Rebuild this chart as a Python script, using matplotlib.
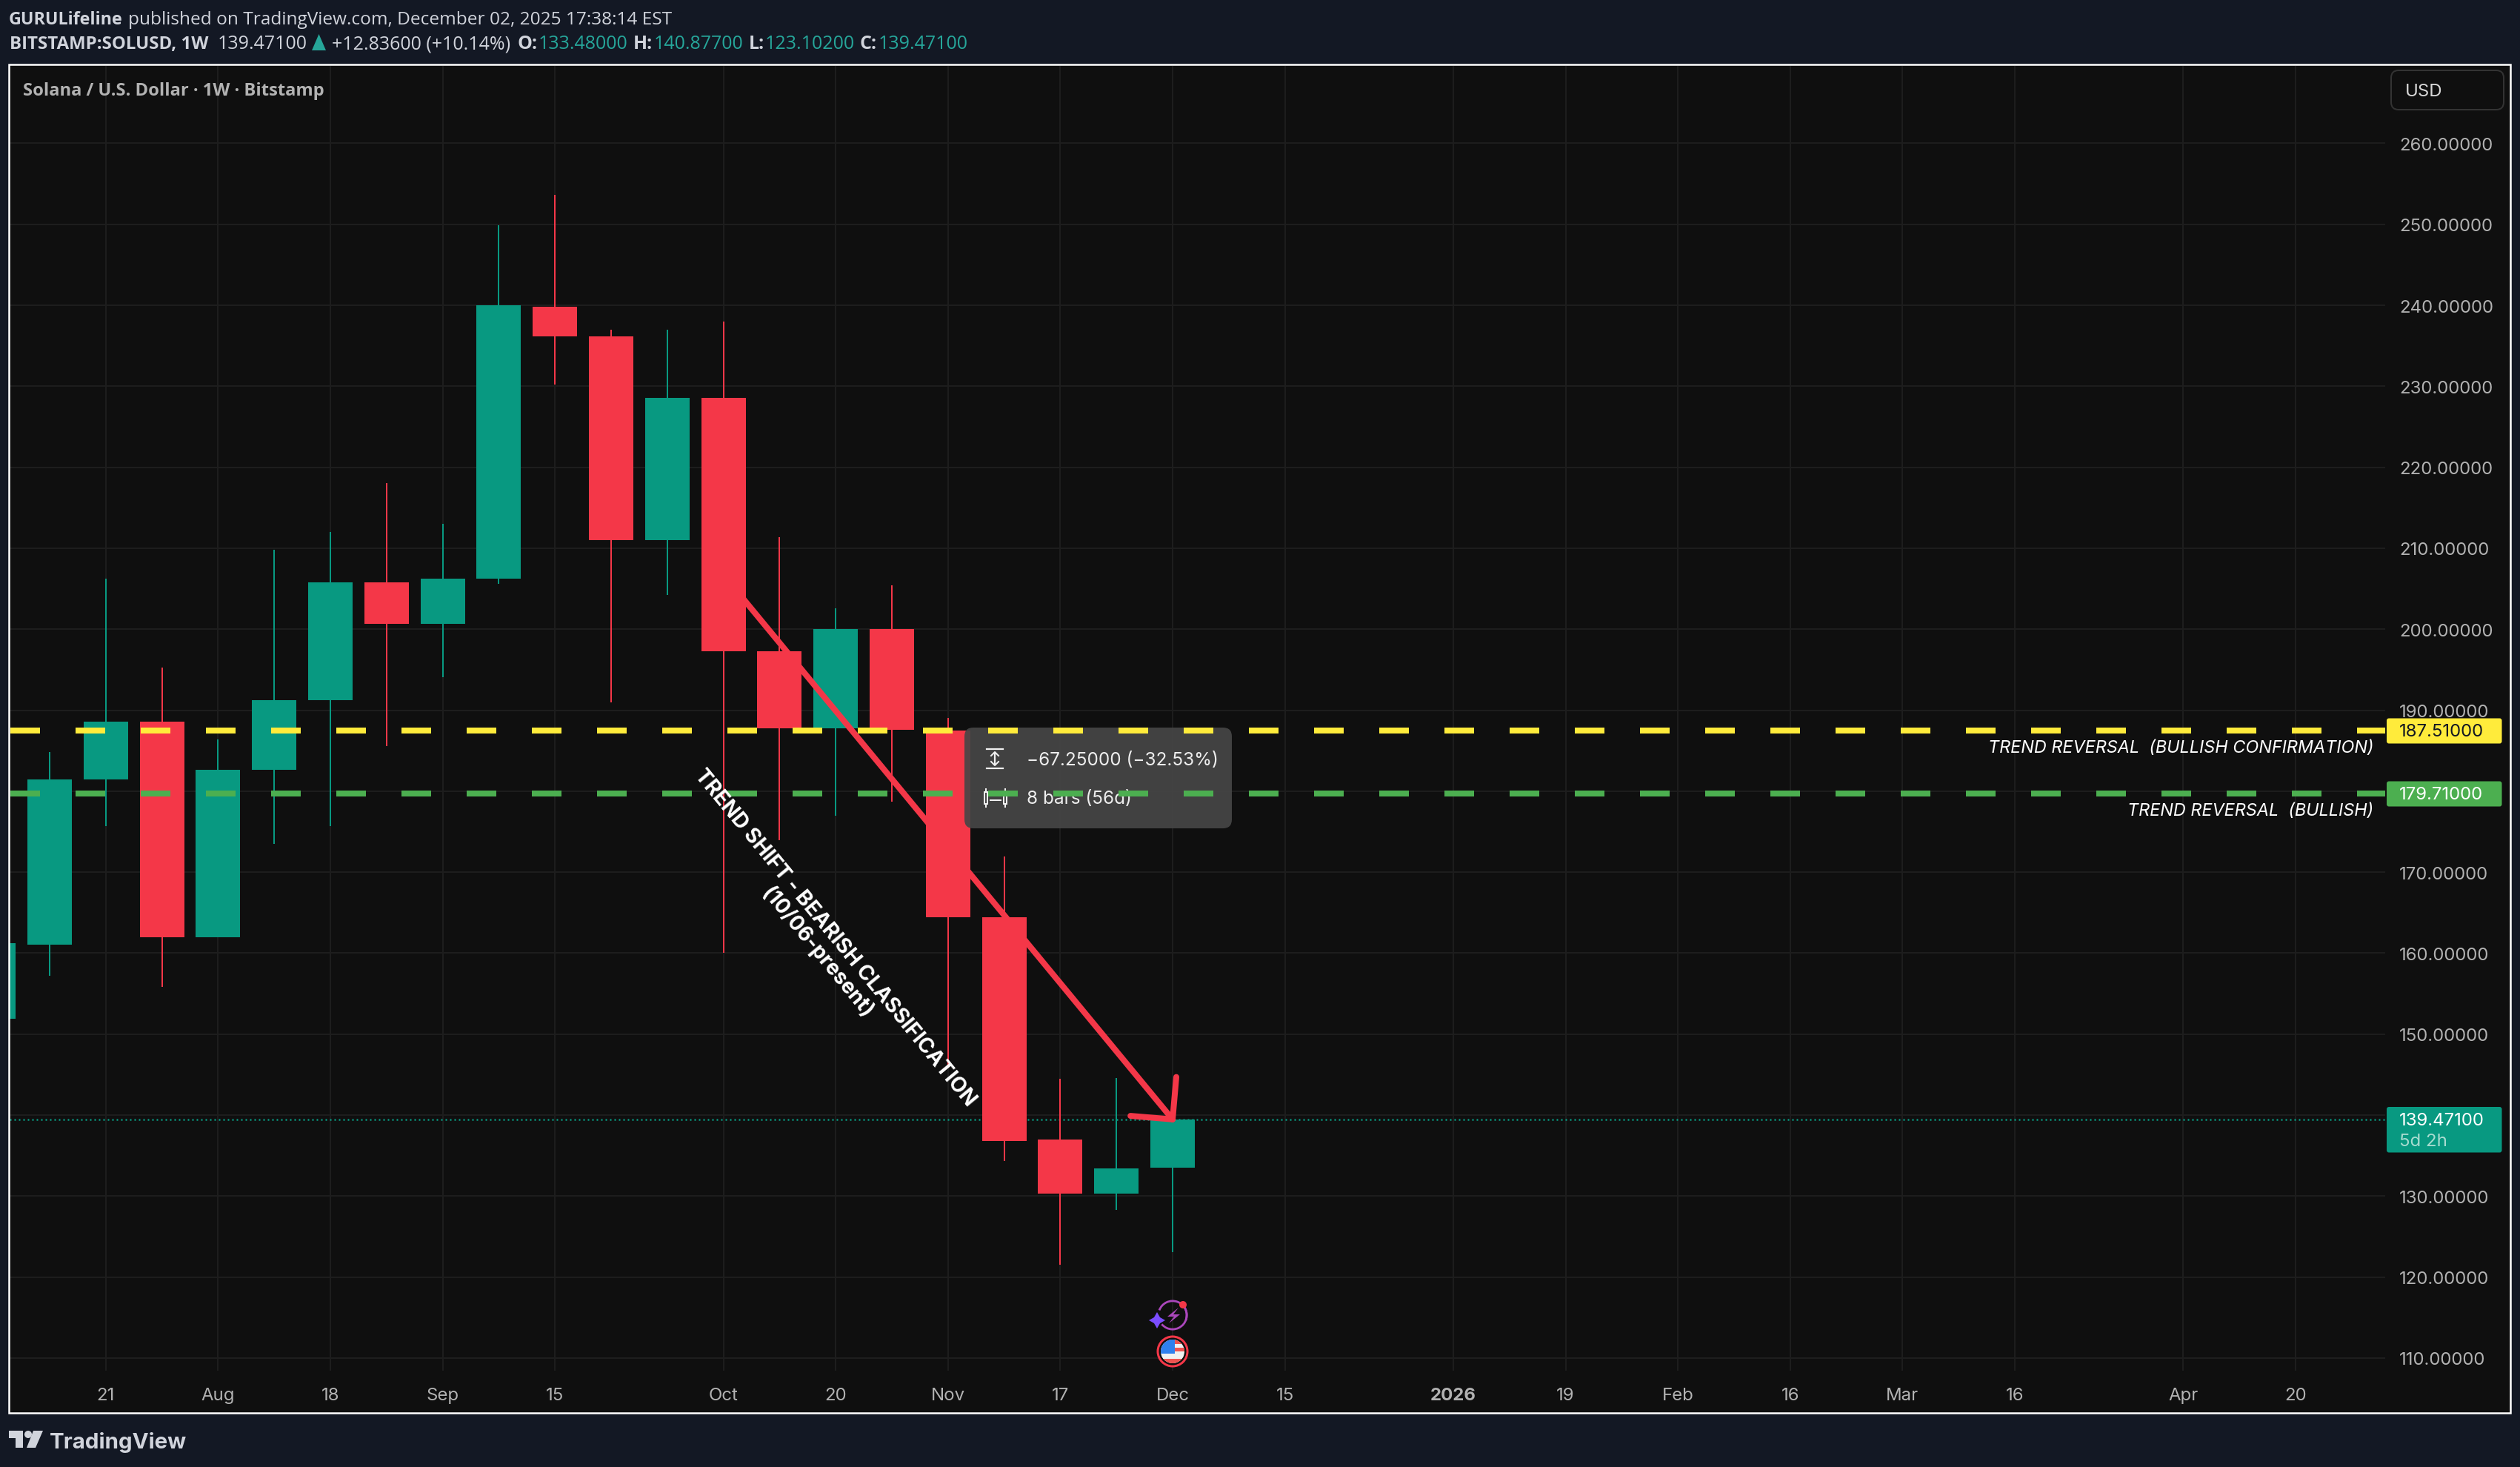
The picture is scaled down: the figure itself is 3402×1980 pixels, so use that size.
import matplotlib
matplotlib.use("Agg")
import matplotlib.pyplot as plt
from matplotlib.patches import FancyBboxPatch, Rectangle, Circle, Polygon, Wedge
from matplotlib.lines import Line2D
from matplotlib.transforms import Affine2D
from matplotlib.ticker import FixedLocator, FixedFormatter

W, H = 3402, 1980
DPI = 100

# ---- data (weeks relative to the week of Dec 1, 2025) ----
week = [-21, -20, -19, -18, -17, -16, -15, -14, -13, -12, -11, -10, -9, -8, -7, -6, -5, -4, -3, -2, -1, 0]
opens = [151.9, 161.0, 181.4, 188.6, 162.0, 182.6, 191.2, 205.8, 200.7, 206.2, 239.8, 236.2, 211.0, 228.6, 197.3, 187.8, 200.0, 187.5, 164.4, 137.0, 130.3, 133.48]
highs = [161.2, 184.8, 206.2, 195.3, 186.4, 209.8, 212.0, 218.0, 213.0, 249.9, 253.6, 237.0, 237.0, 238.0, 211.4, 202.6, 205.4, 189.0, 171.9, 144.5, 144.6, 140.877]
lows = [151.9, 157.2, 175.7, 155.8, 162.0, 173.5, 175.7, 185.6, 194.1, 205.6, 230.2, 191.0, 204.2, 160.0, 173.9, 177.0, 178.7, 146.1, 134.3, 121.5, 128.3, 123.102]
closes = [161.2, 181.4, 188.6, 162.0, 182.6, 191.2, 205.8, 200.7, 206.2, 240.0, 236.2, 211.0, 228.6, 197.3, 187.8, 200.0, 187.6, 164.4, 136.8, 130.3, 133.4, 139.471]

price_ticks = [110, 120, 130, 140, 150, 160, 170, 180, 190, 200, 210, 220, 230, 240, 250, 260]
hidden_price_labels = [140, 180]

time_ticks = [-19, -17, -15, -13, -11, -8, -6, -4, -2, 0, 2, 5, 7, 9, 11, 13, 15, 18, 20]
time_labels = ["21", "Aug", "18", "Sep", "15", "Oct", "20", "Nov", "17", "Dec", "15", "2026", "19", "Feb", "16", "Mar", "16", "Apr", "20"]
bold_time_labels = ["2026"]

level_bullish_confirm = 187.51
level_bullish = 179.71
last_close = 139.471

trend_week = [-8, 0]
trend_price = [206.72, 139.47]
barb_a_week = [0.066, 0]
barb_a_price = [144.7, 139.47]
barb_b_week = [-0.75, 0]
barb_b_price = [139.9, 139.47]

# ---- colours ----
OUTER = "#131824"
PANE = "#0f0f0f"
GRID = "#1d1d1d"
UP = "#089981"
DOWN = "#f43748"
YELLOW = "#ffeb3b"
LGREEN = "#4caf50"
TICK = "#b2b2b2"
HEAD = "#d1d4dc"

FONT = ["Inter", "DejaVu Sans"]
HFONT = ["Open Sans", "DejaVu Sans"]

def pt(px):
    return px * 72.0 / DPI

fig = plt.figure(figsize=(W / DPI, H / DPI), dpi=DPI, facecolor=OUTER)

# pixel-space transform for furniture
PX = Affine2D().scale(1, -1).translate(0, H)

L, R, T, B = 13, 3220, 89, 1850
ax = fig.add_axes([L / W, 1 - B / H, (R - L) / W, (B - T) / H])
ax.set_facecolor(PANE)

# axis scales: x in weeks, y in price
X0, DX = 1583.0, 75.8
Y190, DY = 958.5, 10.93
ax.set_xlim((L - X0) / DX, (R - X0) / DX)
ax.set_ylim(190 - (B - Y190) / DY, 190 - (T - Y190) / DY)

for s in ax.spines.values():
    s.set_visible(False)

ax.yaxis.tick_right()
ax.yaxis.set_major_locator(FixedLocator(price_ticks))
ax.yaxis.set_major_formatter(FixedFormatter(
    ["" if p in hidden_price_labels else f"{p:.5f}" for p in price_ticks]))
ax.xaxis.set_major_locator(FixedLocator(time_ticks))
ax.xaxis.set_major_formatter(FixedFormatter(time_labels))
ax.tick_params(axis="both", length=0, labelcolor=TICK, labelsize=pt(24))
ax.tick_params(axis="y", pad=pt(19))
ax.tick_params(axis="x", pad=pt(23))
for lab in ax.get_xticklabels() + ax.get_yticklabels():
    lab.set_family(FONT)
for lab in ax.get_yticklabels():
    lab.set_transform(lab.get_transform() + Affine2D().translate(0, -1))
for lab in ax.get_xticklabels():
    if lab.get_text() in bold_time_labels:
        lab.set_fontweight("bold")
ax.grid(True, color=GRID, lw=pt(2), zorder=0)
ax.set_axisbelow(True)

# last price dotted line
ax.axhline(last_close, color=UP, lw=pt(2.5), dashes=(0.8, 1.6), zorder=1)

# candles
BODY = 60 / DX
for k, o, h, l, c in zip(week, opens, highs, lows, closes):
    col = UP if c >= o else DOWN
    ax.vlines(k, l, h, color=col, lw=pt(2), zorder=2)
    ax.add_patch(Rectangle((k - BODY / 2, min(o, c)), BODY, abs(c - o), fc=col, ec="none", zorder=3))

# trend arrow
for xs, ys in ((trend_week, trend_price), (barb_a_week, barb_a_price), (barb_b_week, barb_b_price)):
    ax.plot(xs, ys, color=DOWN, lw=pt(8), solid_capstyle="round", zorder=4)

# tooltip
ax.add_patch(FancyBboxPatch((1310, 990), 345, 120, boxstyle="round,pad=8,rounding_size=12",
                            transform=PX, fc="#464646", ec="none", alpha=0.92, zorder=5, clip_on=False))
ic = dict(color="#f0f0f0", transform=PX, clip_on=False, zorder=5.1)
ax.add_line(Line2D([1332, 1354], [1011, 1011], lw=pt(2.2), **ic))
ax.add_line(Line2D([1332, 1354], [1037, 1037], lw=pt(2.2), **ic))
ax.add_line(Line2D([1343, 1343], [1016, 1032], lw=pt(2.2), **ic))
ax.add_line(Line2D([1338, 1343, 1348], [1020, 1015, 1020], lw=pt(2), **ic))
ax.add_line(Line2D([1338, 1343, 1348], [1028, 1033, 1028], lw=pt(2), **ic))
ax.add_line(Line2D([1331, 1331], [1065, 1089], lw=pt(2), **ic))
ax.add_line(Line2D([1357, 1357], [1065, 1089], lw=pt(2), **ic))
ax.add_patch(Rectangle((1329, 1069), 4, 16, transform=PX, fc="#464646", ec="#f0f0f0", lw=pt(2), zorder=5.1, clip_on=False))
ax.add_patch(Rectangle((1355, 1069), 4, 16, transform=PX, fc="#464646", ec="#f0f0f0", lw=pt(2), zorder=5.1, clip_on=False))
ax.add_line(Line2D([1337, 1351], [1080, 1080], lw=pt(2), **ic))
ax.text(1386, 1026, "\u221267.25000 (\u221232.53%)", transform=PX, color="#eeeeee", family=FONT,
        fontsize=pt(24.3), va="center", ha="left", zorder=5.2, clip_on=False)
ax.text(1386, 1079, "8 bars (56d)", transform=PX, color="#eeeeee", family=FONT,
        fontsize=pt(24.3), va="center", ha="left", zorder=5.2, clip_on=False)

# horizontal levels
for lev, col in ((level_bullish_confirm, YELLOW), (level_bullish, LGREEN)):
    line = ax.axhline(lev, color=col, lw=pt(8), zorder=6, dash_capstyle="butt")
    line.set_linestyle((10.875, (5, 6)))

# level captions
for y, s in ((1010, "TREND REVERSAL  (BULLISH CONFIRMATION)"), (1095, "TREND REVERSAL  (BULLISH)")):
    ax.text(3204, y, s, transform=PX, color="#ffffff", family=FONT, style="italic",
            fontsize=pt(23.4), ha="right", va="center", zorder=7, clip_on=False)

# rotated caption
ax.text(1115, 1276, "TREND SHIFT - BEARISH CLASSIFICATION\n(10/06-present)", transform=PX,
        color="#ffffff", family=FONT, fontweight="bold", fontsize=pt(28.2), rotation=-50.5,
        rotation_mode="anchor", ha="center", va="center", multialignment="center",
        linespacing=1.15, zorder=7, clip_on=False)

# price labels
def plabel(y0, y1, col):
    fig.add_artist(FancyBboxPatch((3224, y0 + 2), 151.5, y1 - y0 - 4, boxstyle="round,pad=2,rounding_size=3",
                                  transform=PX, fc=col, ec="none", zorder=8))

plabel(969.5, 1003.5, YELLOW)
plabel(1054.5, 1088.5, LGREEN)
plabel(1494, 1555.5, UP)
tk = dict(transform=PX, family=FONT, fontsize=pt(24), va="center", ha="left", zorder=9)
fig.text(3239, 988, f"{level_bullish_confirm:.5f}", color="#131722", **tk)
fig.text(3239, 1073, f"{level_bullish:.5f}", color="#ffffff", **tk)
fig.text(3239, 1513, f"{last_close:.5f}", color="#ffffff", **tk)
fig.text(3239, 1541, "5d 2h", color="#a8dcd0", **tk)

# USD box
fig.add_artist(FancyBboxPatch((3236, 103), 136, 37, boxstyle="round,pad=8,rounding_size=10", transform=PX,
                              fc=PANE, ec="#333333", lw=pt(2), zorder=8))
fig.text(3247, 124, "USD", transform=PX, family=FONT, fontsize=pt(24), color="#d8d8d8", va="center", zorder=9)

# frame
fig.add_artist(Rectangle((12, 87), 3376.5, 1820, transform=PX, fc="none", ec="#ffffff", lw=pt(2.5), zorder=10))
fig.add_artist(Rectangle((12, 87), 3376.5, 1820, transform=PX, fc=PANE, ec="none", zorder=-5))

# header
def htext(x, y, s, col=HEAD, weight="normal", size=25, family=HFONT):
    fig.text(x, y, s, transform=PX, color=col, family=family, fontweight=weight, fontsize=pt(size),
             va="center", ha="left", zorder=9)

htext(12, 27, "GURULifeline", weight="bold", size=23.3)
htext(173, 27, "published on TradingView.com, December 02, 2025 17:38:14 EST", size=24.4)
htext(13, 60, "BITSTAMP:SOLUSD, 1W", weight="bold", size=24)
htext(294, 60, "139.47100")
fig.add_artist(Polygon([[421, 68], [440, 68], [430.5, 46]], closed=True, transform=PX, fc="#26a69a", ec="none", zorder=9))
htext(448, 60, "+12.83600 (+10.14%)")
for xl, lab, xv, val in ((698, "O:", 727, "133.48000"), (855, "H:", 883, "140.87700"),
                         (1011, "L:", 1033, "123.10200"), (1160, "C:", 1186, "139.47100")):
    htext(xl, 60, lab, weight="bold")
    htext(xv, 60, val, col="#26a69a")

htext(31, 123, "Solana / U.S. Dollar \u00b7 1W \u00b7 Bitstamp", col="#b2b2b2", weight="bold", size=23.8)

# footer logo
LOGO = "#d1d4dc"
fig.add_artist(Polygon([[12, 1931], [31, 1931], [31, 1954], [21, 1954], [21, 1941], [12, 1941]], closed=True,
                       transform=PX, fc=LOGO, ec="none", zorder=9))
fig.add_artist(Circle((38, 1936), 5, transform=PX, fc=LOGO, ec="none", zorder=9))
fig.add_artist(Polygon([[45, 1931], [58, 1931], [48, 1954], [36, 1954]], closed=True, transform=PX, fc=LOGO, ec="none", zorder=9))
htext(67, 1947, "TradingView", col=LOGO, weight="bold", size=29.5, family=FONT)

# event icons
cx, cy = 1583, 1775
fig.add_artist(Wedge((cx, cy), 20.5, 200, 20, width=2.8, transform=PX, fc="#ab47bc", ec="none", zorder=9))
fig.add_artist(Wedge((cx, cy), 20.5, -60, 140, width=2.8, transform=PX, fc="#ab47bc", ec="none", zorder=9))
fig.add_artist(Polygon([[1591, 1765], [1576, 1777], [1585, 1777], [1578, 1786], [1593, 1774], [1584, 1774]], closed=True,
                       transform=PX, fc="#ab47bc", ec="none", zorder=9))
fig.add_artist(Circle((1597, 1761), 5, transform=PX, fc=DOWN, ec="none", zorder=9))
fig.add_artist(Polygon([[1562, 1771], [1566, 1778], [1573, 1782], [1566, 1786], [1562, 1793], [1558, 1786],
                        [1551, 1782], [1558, 1778]], closed=True, transform=PX, fc="#7b4dff", ec="none", zorder=9))
fcx, fcy = 1583, 1824
fig.add_artist(Circle((fcx, fcy), 20, transform=PX, fc=PANE, ec=DOWN, lw=pt(3), zorder=9))
fl = Circle((fcx, fcy), 16, transform=PX, fc="#f0f0f0", ec="none", zorder=9.1)
fig.add_artist(fl)
for y0, h0, c0 in ((1808, 6, "#ef5350"), (1819, 5, "#ef5350"), (1829, 5, "#f0f0f0"), (1834, 6, "#ef5350")):
    r = Rectangle((fcx - 16, y0), 32, h0, transform=PX, fc=c0, ec="none", zorder=9.2)
    fig.add_artist(r)
    r.set_clip_path(fl)
can = Rectangle((fcx - 16, 1808), 19, 19, transform=PX, fc="#2f80ed", ec="none", zorder=9.3)
fig.add_artist(can)
can.set_clip_path(fl)

fig.savefig("out.png", dpi=DPI, facecolor=OUTER)
